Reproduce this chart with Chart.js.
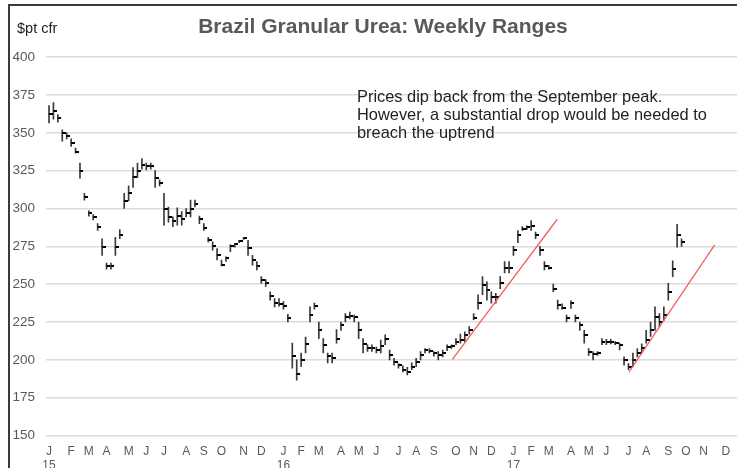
<!DOCTYPE html>
<html lang="en">
<head>
    <meta charset="UTF-8">
    <title>Brazil Granular Urea: Weekly Ranges</title>
    <style>
        html, body {
            margin: 0;
            padding: 0;
            overflow: hidden;
            background: #fff;
        }
        body {
            position: relative;
            width: 737px;
            height: 468px;
            font-family: "Liberation Sans", Arial, sans-serif;
        }
        .frame {
            position: absolute;
            left: 8px;
            top: 4px;
            width: 729px;
            height: 464px;
            border-top: 2px solid #3a3a3a;
            border-left: 2px solid #3a3a3a;
        }
        #chart {
            position: absolute;
            left: 10px;
            top: 6px;
        }
        .unit {
            position: absolute;
            left: 17px;
            top: 21px;
            font-size: 14.5px;
            line-height: 1;
            color: #222;
        }
        .note {
            position: absolute;
            left: 357px;
            top: 87px;
            font-size: 16.4px;
            line-height: 18px;
            color: #222;
        }
    </style>
    <script src="https://cdn.jsdelivr.net/npm/chart.js"></script>
</head>
<body>
    <div class="frame"></div>
    <canvas id="chart" width="746" height="462" style="width:746px;height:462px"></canvas>
    <div class="unit">$pt cfr</div>
    <div class="note">Prices dip back from the September peak.<br>However, a substantial drop would be needed to<br>breach the uptrend</div>
    <script>
        // weekly high / low / close, week 0 = first week of Jan 2015
        const highs = [
            368, 370, 362, 352, 350, 346, 340, 330, 310, 298.5,
            296, 290, 280, 264, 264, 281, 286, 310, 315, 327,
            330, 333, 330, 330, 325, 319, 310, 301, 294.5, 300.5,
            298, 300, 305.5, 305.5, 295, 290, 281, 278, 273.5, 266,
            268, 276, 277, 279, 281, 279, 269, 265, 255, 253,
            245, 240.5, 240.5, 238.5, 230, 211, 200, 204.5, 215, 235,
            237.5, 225, 214, 204.5, 204.5, 220, 225, 230.5, 231.5, 229.5,
            225, 214, 210, 210, 208.5, 213, 216.5, 206.5, 201, 197.5,
            196, 195, 198, 201, 205.5, 207.5, 207.5, 205.5, 205.5, 206.5,
            210, 210, 214, 217, 218.5, 222, 230.5, 243, 255, 251.5,
            245, 244, 255, 265, 265, 275, 285.5, 288, 288.5, 292,
            284.5, 275, 265, 262.5, 250, 239.5, 237, 229.5, 239, 229.5,
            225, 219.5, 207.5, 205.5, 205.5, 214, 213.5, 213.5, 212, 211,
            202, 197.5, 204.5, 207.5, 210.5, 219.5, 225, 235, 230.5, 235,
            250.5, 265.5, 289.5, 280
        ];
        const lows = [
            356.5, 359, 357, 344.5, 346, 341, 336.5, 320, 305.5, 295,
            292.5, 285.5, 269, 260, 260, 269, 280, 300, 305, 314,
            320.5, 326, 325.5, 326, 314, 315, 289, 291, 288, 289,
            289, 294.5, 294.5, 301, 290, 285.5, 278, 272.5, 266, 262,
            265, 271.5, 274.5, 277.5, 279.5, 269, 262.5, 259.5, 250.5, 248.5,
            239.5, 235, 235.5, 233.5, 225, 194.5, 186.5, 195.5, 204.5, 225,
            233.5, 214, 204.5, 198, 198, 211, 219.5, 225, 227, 225,
            214, 204.5, 205.5, 205.5, 204.5, 204.5, 210, 200, 196.5, 194.5,
            192, 190, 193.5, 195.5, 200, 204.5, 204.5, 202.5, 200, 202,
            206, 207.5, 210, 211, 212, 217, 226.5, 233.5, 243, 239.5,
            237.5, 237.5, 247, 257.5, 257.5, 269, 277.5, 285.5, 286, 285.5,
            280, 269, 259.5, 260, 245, 233.5, 233.5, 225, 234, 225,
            219.5, 211, 203, 200, 203, 210, 210, 210.5, 210, 206.5,
            196.5, 193.5, 195.5, 202, 204.5, 211, 215.5, 219.5, 222, 226,
            239.5, 255, 274.5, 275
        ];
        const closes = [
            362.5, 364.5, 360, 350, 348, 343.5, 337.5, 325, 307.5, 297,
            294.5, 287.5, 274.5, 262, 262, 274.5, 282.5, 305, 310, 321,
            325, 329, 328, 328, 320, 317, 300, 294.5, 291.5, 295,
            293, 297, 300, 303, 293, 287, 279.5, 275, 269, 263,
            267, 275, 276.5, 278.5, 280.5, 274, 266, 262, 253, 250.5,
            242, 237.5, 237, 235.5, 227.5, 202.5, 190.5, 200, 210.5, 229.5,
            235.5, 219.5, 209.5, 202.5, 201, 214, 223, 228.5, 229, 228,
            219.5, 210.5, 207.5, 207.5, 206.5, 209, 213.5, 203, 198.5, 196.5,
            193.5, 192, 195.5, 198.5, 203, 206.5, 206, 204.5, 203, 204.5,
            208.5, 209, 212, 213, 216.5, 219.5, 227.5, 237.5, 249.5, 246,
            241.5, 241.5, 251, 261, 261, 272.5, 282.5, 286.5, 287.5, 288.5,
            282.5, 272.5, 262, 261, 247, 236, 234.5, 227.5, 237.5, 227.5,
            223, 216.5, 205.5, 204, 204.5, 212, 212, 212, 211, 210,
            200, 195.5, 200, 204.5, 207.5, 213, 219.5, 228, 225, 229.5,
            245, 260, 282.5, 278
        ];

        // month labels sit on the first week of each month
        const tickWeeks = [0, 5, 9, 13, 18, 22, 26, 31, 35, 39, 44, 48,
            53, 57, 61, 66, 70, 74, 79, 83, 87, 92, 96, 100,
            105, 109, 113, 118, 122, 126, 131, 135, 140, 144, 148, 153];
        const tickLabels = [['J', '15'], 'F', 'M', 'A', 'M', 'J', 'J', 'A', 'S', 'O', 'N', 'D',
            ['J', '16'], 'F', 'M', 'A', 'M', 'J', 'J', 'A', 'S', 'O', 'N', 'D',
            ['J', '17'], 'F', 'M', 'A', 'M', 'J', 'J', 'A', 'S', 'O', 'N', 'D'];

        // trend lines [week, price]
        const trend1 = [[91.2, 200.3], [114.9, 292.9]];
        const trend2 = [[131.1, 191.9], [150.5, 275.9]];

        // close tick: small mark to the right of the bar
        const tick = document.createElement('canvas');
        tick.width = 7;
        tick.height = 2;
        const tctx = tick.getContext('2d');
        tctx.fillStyle = '#000';
        tctx.fillRect(3.5, 0, 3.5, 2);

        const font = 'Liberation Sans, Arial, sans-serif';

        new Chart(document.getElementById('chart'), {
            type: 'bar',
            data: {
                datasets: [
                    {
                        type: 'line',
                        data: trend1.map(p => ({ x: p[0], y: p[1] })),
                        borderColor: '#f2615c',
                        borderWidth: 1.3,
                        pointRadius: 0
                    },
                    {
                        type: 'line',
                        data: trend2.map(p => ({ x: p[0], y: p[1] })),
                        borderColor: '#f2615c',
                        borderWidth: 1.3,
                        pointRadius: 0
                    },
                    {
                        type: 'scatter',
                        data: closes.map((c, i) => ({ x: i, y: c })),
                        pointStyle: tick,
                        pointRadius: 3
                    },
                    {
                        type: 'bar',
                        data: highs.map((h, i) => ({ x: i, y: [lows[i], h] })),
                        backgroundColor: '#3a3a3a',
                        barThickness: 1
                    }
                ]
            },
            options: {
                responsive: false,
                animation: false,
                devicePixelRatio: 1,
                layout: { padding: 0 },
                plugins: {
                    legend: { display: false },
                    tooltip: { enabled: false },
                    title: {
                        display: true,
                        text: 'Brazil Granular Urea: Weekly Ranges',
                        color: '#595959',
                        font: { family: font, size: 21, weight: 'bold' },
                        padding: { top: 9, bottom: 17 }
                    }
                },
                scales: {
                    x: {
                        type: 'linear',
                        offset: false,
                        min: -0.68,
                        max: 158.7,
                        grid: { display: false },
                        border: { display: false },
                        afterFit: s => {
                            s.height = 32.5;
                            s.paddingLeft = 0;
                            s.paddingRight = 0;
                        },
                        afterBuildTicks: s => { s.ticks = tickWeeks.map(v => ({ value: v })); },
                        ticks: {
                            autoSkip: false,
                            maxRotation: 0,
                            minRotation: 0,
                            padding: 2,
                            color: '#595959',
                            font: { family: font, size: 12, lineHeight: 1.1 },
                            callback: (v, i) => tickLabels[i]
                        }
                    },
                    y: {
                        min: 150,
                        max: 400,
                        grid: { color: '#dcdcdc', lineWidth: 1.5, drawTicks: false },
                        border: { display: false },
                        afterFit: s => { s.width = 36; },
                        ticks: {
                            stepSize: 25,
                            padding: 11,
                            color: '#595959',
                            font: { family: font, size: 13.5 }
                        }
                    }
                }
            }
        });
    </script>
</body>
</html>
